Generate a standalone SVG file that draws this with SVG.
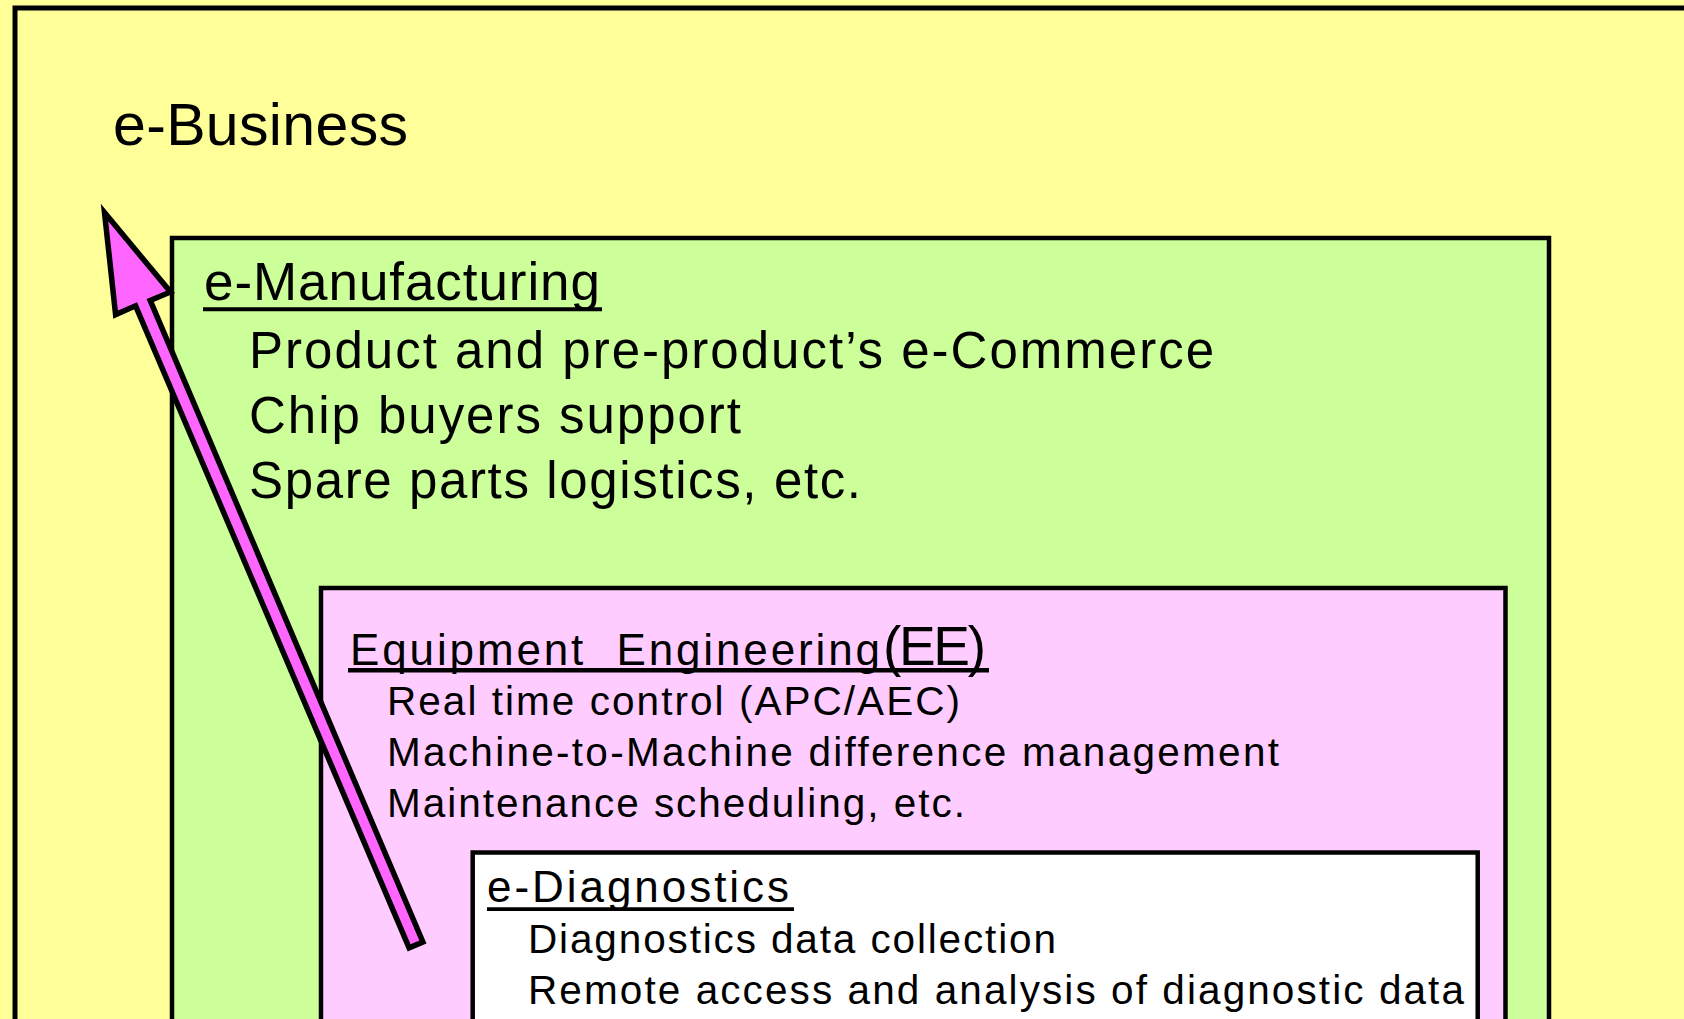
<svg xmlns="http://www.w3.org/2000/svg" width="1684" height="1019" viewBox="0 0 1684 1019">
<style>
.box{stroke:#000;}
.t{font-family:"Liberation Sans",Arial,Helvetica,sans-serif;fill:#000;}
.ul{stroke:#000;}
</style>
<rect x="0" y="0" width="1684" height="1019" fill="#FFFF99"/>
<g id="e-business">
<rect class="box" x="15" y="8" width="1720" height="1100" fill="#FFFF99" stroke-width="5"/>
<text class="t" x="113" y="145" font-size="59" textLength="295" lengthAdjust="spacing">e-Business</text>
</g>
<g id="e-manufacturing">
<rect class="box" x="172" y="238" width="1377" height="900" fill="#CCFF99" stroke-width="4.5"/>
<text class="t" x="204" y="300" font-size="53" textLength="396" lengthAdjust="spacing">e-Manufacturing</text>
<line class="ul" x1="203" y1="309.3" x2="602" y2="309.3" stroke-width="4"/>
<text class="t" x="249" y="368" font-size="51" textLength="965" lengthAdjust="spacing">Product and pre-product’s e-Commerce</text>
<text class="t" x="249" y="433" font-size="51" textLength="492" lengthAdjust="spacing">Chip buyers support</text>
<text class="t" x="249" y="498" font-size="51" textLength="612" lengthAdjust="spacing">Spare parts logistics, etc.</text>
</g>
<g id="equipment-engineering">
<rect class="box" x="321" y="588" width="1184.5" height="600" fill="#FFCCFF" stroke-width="4.5"/>
<text class="t" x="350" y="665" font-size="44" textLength="530" lengthAdjust="spacing" xml:space="preserve">Equipment  Engineering</text>
<text class="t" x="883" y="665" font-size="55" textLength="103" lengthAdjust="spacing">(EE)</text>
<line class="ul" x1="348" y1="670.3" x2="989" y2="670.3" stroke-width="4.5"/>
<text class="t" x="387" y="715" font-size="40.5" textLength="573" lengthAdjust="spacing">Real time control (APC/AEC)</text>
<text class="t" x="387" y="766" font-size="40.5" textLength="892" lengthAdjust="spacing">Machine-to-Machine difference management</text>
<text class="t" x="387" y="817" font-size="40.5" textLength="578" lengthAdjust="spacing">Maintenance scheduling, etc.</text>
</g>
<g id="e-diagnostics">
<rect class="box" x="472.7" y="852.5" width="1005" height="300" fill="#FFFFFF" stroke-width="4.5"/>
<text class="t" x="487" y="902" font-size="44" textLength="302" lengthAdjust="spacing">e-Diagnostics</text>
<line class="ul" x1="487" y1="909.2" x2="794" y2="909.2" stroke-width="3.7"/>
<text class="t" x="528" y="953" font-size="40.5" textLength="528" lengthAdjust="spacing">Diagnostics data collection</text>
<text class="t" x="528" y="1004" font-size="40.5" textLength="936" lengthAdjust="spacing">Remote access and analysis of diagnostic data</text>
</g>
<g id="connectors">
<polygon points="104.5,212.5 170.5,292.0 150.2,300.4 422.9,942.0 409.1,947.8 135.6,305.8 115.6,314.6" fill="#FF66FF" stroke="#000" stroke-width="5.5" stroke-linejoin="miter"/>
</g>
</svg>
